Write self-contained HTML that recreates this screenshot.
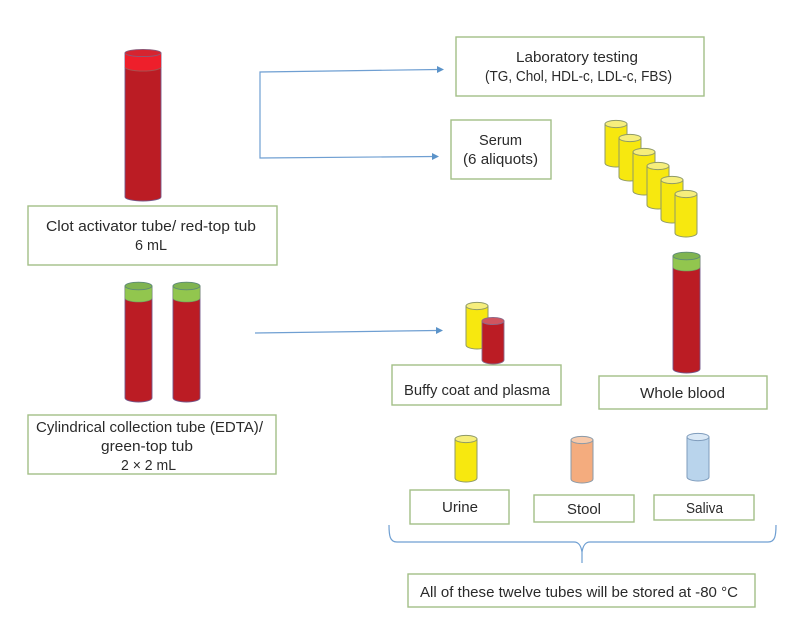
<!DOCTYPE html>
<html>
<head>
<meta charset="utf-8">
<style>
html,body{margin:0;padding:0;background:#fff}
svg{display:block;filter:blur(.35px)}
text{font-family:"Liberation Sans",sans-serif;font-size:14.5px;fill:#2a2a2a}
.b{fill:#fff;stroke:#a3bf87;stroke-width:1.4}
.l{fill:none;stroke:#6f9fd2;stroke-width:1.2}
.a{fill:#5b93c9}
</style>
</head>
<body>
<svg width="795" height="617" viewBox="0 0 795 617" xmlns="http://www.w3.org/2000/svg">
<defs>
<g id="y">
<path d="M0 4V43A11 4 0 0 0 22 43V4Z" fill="#f7e80f" stroke="#8f9a68" stroke-width="1"/>
<ellipse cx="11" cy="4" rx="11" ry="3.6" fill="#f6ee7c" stroke="#8f9a68" stroke-width="1"/>
</g>
</defs>
<rect width="795" height="617" fill="#fff"/>

<!-- boxes -->
<rect class="b" x="456" y="37" width="248" height="59"/>
<text x="516" y="62" textLength="122" lengthAdjust="spacingAndGlyphs">Laboratory testing</text>
<text x="485" y="81" textLength="187" lengthAdjust="spacingAndGlyphs">(TG, Chol, HDL-c, LDL-c, FBS)</text>
<rect class="b" x="451" y="120" width="100" height="59"/>
<text x="479" y="145" textLength="43" lengthAdjust="spacingAndGlyphs">Serum</text>
<text x="463" y="164" textLength="75" lengthAdjust="spacingAndGlyphs">(6 aliquots)</text>
<rect class="b" x="28" y="206" width="249" height="59"/>
<text x="46" y="231" textLength="210" lengthAdjust="spacingAndGlyphs">Clot activator tube/ red-top tub</text>
<text x="135" y="250" textLength="32" lengthAdjust="spacingAndGlyphs">6 mL</text>
<rect class="b" x="28" y="415" width="248" height="59"/>
<text x="36" y="432" textLength="227" lengthAdjust="spacingAndGlyphs">Cylindrical collection tube (EDTA)/</text>
<text x="101" y="451" textLength="92" lengthAdjust="spacingAndGlyphs">green-top tub</text>
<text x="121" y="470" textLength="55" lengthAdjust="spacingAndGlyphs">2 × 2 mL</text>
<rect class="b" x="392" y="365" width="169" height="40"/>
<text x="404" y="395" textLength="146" lengthAdjust="spacingAndGlyphs">Buffy coat and plasma</text>
<rect class="b" x="599" y="376" width="168" height="33"/>
<text x="640" y="398" textLength="85" lengthAdjust="spacingAndGlyphs">Whole blood</text>
<rect class="b" x="410" y="490" width="99" height="34"/>
<text x="442" y="512" textLength="36" lengthAdjust="spacingAndGlyphs">Urine</text>
<rect class="b" x="534" y="495" width="100" height="27"/>
<text x="567" y="514" textLength="34" lengthAdjust="spacingAndGlyphs">Stool</text>
<rect class="b" x="654" y="495" width="100" height="25"/>
<text x="686" y="513" textLength="37" lengthAdjust="spacingAndGlyphs">Saliva</text>
<rect class="b" x="408" y="574" width="347" height="33"/>
<text x="420" y="597" textLength="318" lengthAdjust="spacingAndGlyphs">All of these twelve tubes will be stored at -80 °C</text>

<!-- red-top tube -->
<path d="M125 53V197A18 4 0 0 0 161 197V53Z" fill="#bb1c24" stroke="#75588a" stroke-width=".9"/>
<path d="M125 53V67A18 4 0 0 0 161 67V53Z" fill="#ee1f2b"/>
<path d="M125 67A18 4 0 0 0 161 67" fill="none" stroke="#a8504f" stroke-width="1"/>
<ellipse cx="143" cy="53" rx="18" ry="3.6" fill="#d62430" stroke="#8a5a7a" stroke-width=".9"/>

<!-- EDTA tubes -->
<path d="M125 286V398A13.5 4 0 0 0 152 398V286Z" fill="#bb1c24" stroke="#75588a" stroke-width=".9"/>
<path d="M125 286V298A13.5 4 0 0 0 152 298V286Z" fill="#92c64e" stroke="#6f9a66" stroke-width=".6"/>
<ellipse cx="138.500" cy="286" rx="13.500" ry="3.800" fill="#80b450" stroke="#5e8a78" stroke-width=".9"/>
<path d="M173 286V398A13.500 4 0 0 0 200 398V286Z" fill="#bb1c24" stroke="#75588a" stroke-width=".9"/>
<path d="M173 286V298A13.500 4 0 0 0 200 298V286Z" fill="#92c64e" stroke="#6f9a66" stroke-width=".6"/>
<ellipse cx="186.500" cy="286" rx="13.500" ry="3.800" fill="#80b450" stroke="#5e8a78" stroke-width=".9"/>

<!-- aliquots -->
<use href="#y" x="605" y="120"/>
<use href="#y" x="619" y="134"/>
<use href="#y" x="633" y="148"/>
<use href="#y" x="647" y="162"/>
<use href="#y" x="661" y="176"/>
<use href="#y" x="675" y="190"/>

<!-- whole blood -->
<path d="M673 256V369A13.500 4 0 0 0 700 369V256Z" fill="#bb1c24" stroke="#75588a" stroke-width=".9"/>
<path d="M673 256V267A13.500 4 0 0 0 700 267V256Z" fill="#92c64e" stroke="#6f9a66" stroke-width=".6"/>
<ellipse cx="686.500" cy="256" rx="13.500" ry="3.800" fill="#80b450" stroke="#5e8a78" stroke-width=".9"/>

<!-- buffy / plasma -->
<use href="#y" x="466" y="302"/>
<path d="M482 321V360A11 4 0 0 0 504 360V321Z" fill="#bb1c24" stroke="#8a6a8a" stroke-width=".9"/>
<ellipse cx="493" cy="321" rx="11" ry="3.600" fill="#d0555f" stroke="#8a6a8a" stroke-width=".9"/>

<!-- urine, stool, saliva -->
<use href="#y" x="455" y="435"/>
<path d="M571 440V479A11 4 0 0 0 593 479V440Z" fill="#f4ac7e" stroke="#8a9aa8" stroke-width="1"/>
<ellipse cx="582" cy="440" rx="11" ry="3.600" fill="#f7c9aa" stroke="#8a9aa8" stroke-width="1"/>
<path d="M687 437V477A11 4 0 0 0 709 477V437Z" fill="#b9d4ec" stroke="#7f9cbc" stroke-width="1"/>
<ellipse cx="698" cy="437" rx="11" ry="3.600" fill="#dbe9f6" stroke="#7f9cbc" stroke-width="1"/>

<!-- connectors -->
<path class="l" d="M438 69.500L260 72V158L435 156.500"/>
<path class="a" d="M437 66L444 69.500L437 73Z"/>
<path class="a" d="M432 153L439 156.500L432 160Z"/>
<path class="l" d="M255 333L436 330.500"/>
<path class="a" d="M436 327L443 330.500L436 334Z"/>

<!-- brace -->
<path class="l" d="M389 525C389 536 390 542 397 542H574C579 542 581 546 582 552V563M582 552C583 546 585 542 590 542H768C775 542 776 536 776 525"/>
</svg>
</body>
</html>
